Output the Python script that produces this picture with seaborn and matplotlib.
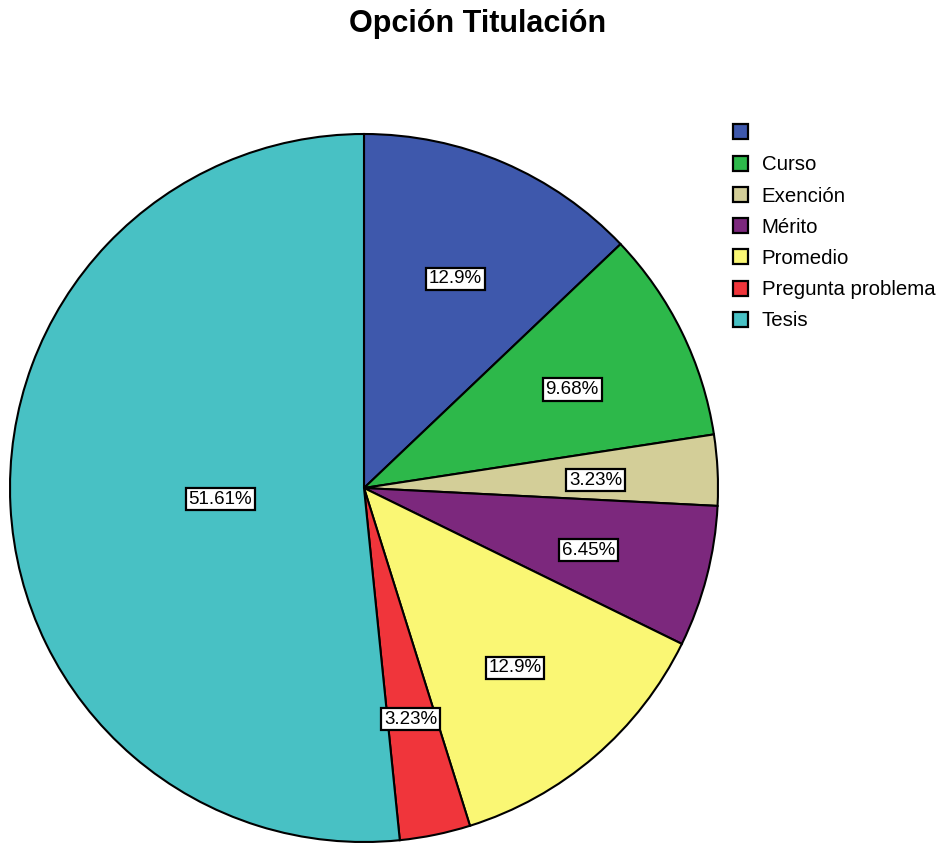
import matplotlib
matplotlib.use("Agg")
import matplotlib.pyplot as plt
import seaborn as sns
from matplotlib.patches import Patch

sns.set_theme(style="white")
plt.rcParams['font.family'] = ['Liberation Sans', 'DejaVu Sans']
plt.rcParams['text.color'] = 'black'

# Opción de titulación: categorías y frecuencias
categorias = ["", "Curso", "Exención", "Mérito", "Promedio", "Pregunta problema", "Tesis"]
frecuencias = [4, 3, 1, 2, 4, 1, 16]
etiquetas = ["12.9%", "9.68%", "3.23%", "6.45%", "12.9%", "3.23%", "51.61%"]
colores = ["#3E58AC", "#2DB84A", "#D3CE98", "#7C287D", "#FAF774", "#F0353B", "#48C1C4"]

palette = sns.color_palette(colores)

fig = plt.figure(figsize=(9.43, 8.43), dpi=100)
R = 354.0
cx, cy = 364.0, 843.0 - 488.0
pad = 1.02
ax = fig.add_axes([(cx - R * pad) / 943, (cy - R * pad) / 843, 2 * R * pad / 943, 2 * R * pad / 843])

wedges, texts, autotexts = ax.pie(
    frecuencias,
    colors=palette,
    startangle=90,
    counterclock=False,
    radius=1.0,
    labels=None,
    autopct=lambda p: "",
    pctdistance=0.655,
    wedgeprops=dict(edgecolor="black", linewidth=1.5),
)

for t, lab in zip(autotexts, etiquetas):
    t.set_text(lab)
    t.set_fontsize(13.5)
    t.set_color("black")
    t.set_bbox(dict(boxstyle="square,pad=0.15", facecolor="white", edgecolor="black", linewidth=1.6))
    x, y = t.get_position()
    t.set_position((x, y - 0.011))

# la etiqueta de la porción mayor va más cerca del centro
x, y = autotexts[-1].get_position()
autotexts[-1].set_position((x * 0.62, y * 0.62 - 0.004))

ax.set_xlim(-pad, pad)
ax.set_ylim(-pad, pad)
ax.set_aspect("equal")
ax.axis("off")

handles = [Patch(facecolor=c, edgecolor="black", linewidth=1.6) for c in colores]
fig.legend(handles, categorias, loc="upper left", bbox_to_anchor=(733 / 943, 1 - 124 / 843),
           frameon=False, fontsize=14.7, handlelength=0.75, handleheight=0.75,
           handletextpad=0.65, labelspacing=0.6, borderaxespad=0, borderpad=0,
           labelcolor="black")

fig.text(478 / 943, 1 - 24 / 843, "Opción Titulación", ha="center", va="center",
         fontsize=22, fontweight="bold", color="black")

fig.savefig("out.png", dpi=100, facecolor="white")
